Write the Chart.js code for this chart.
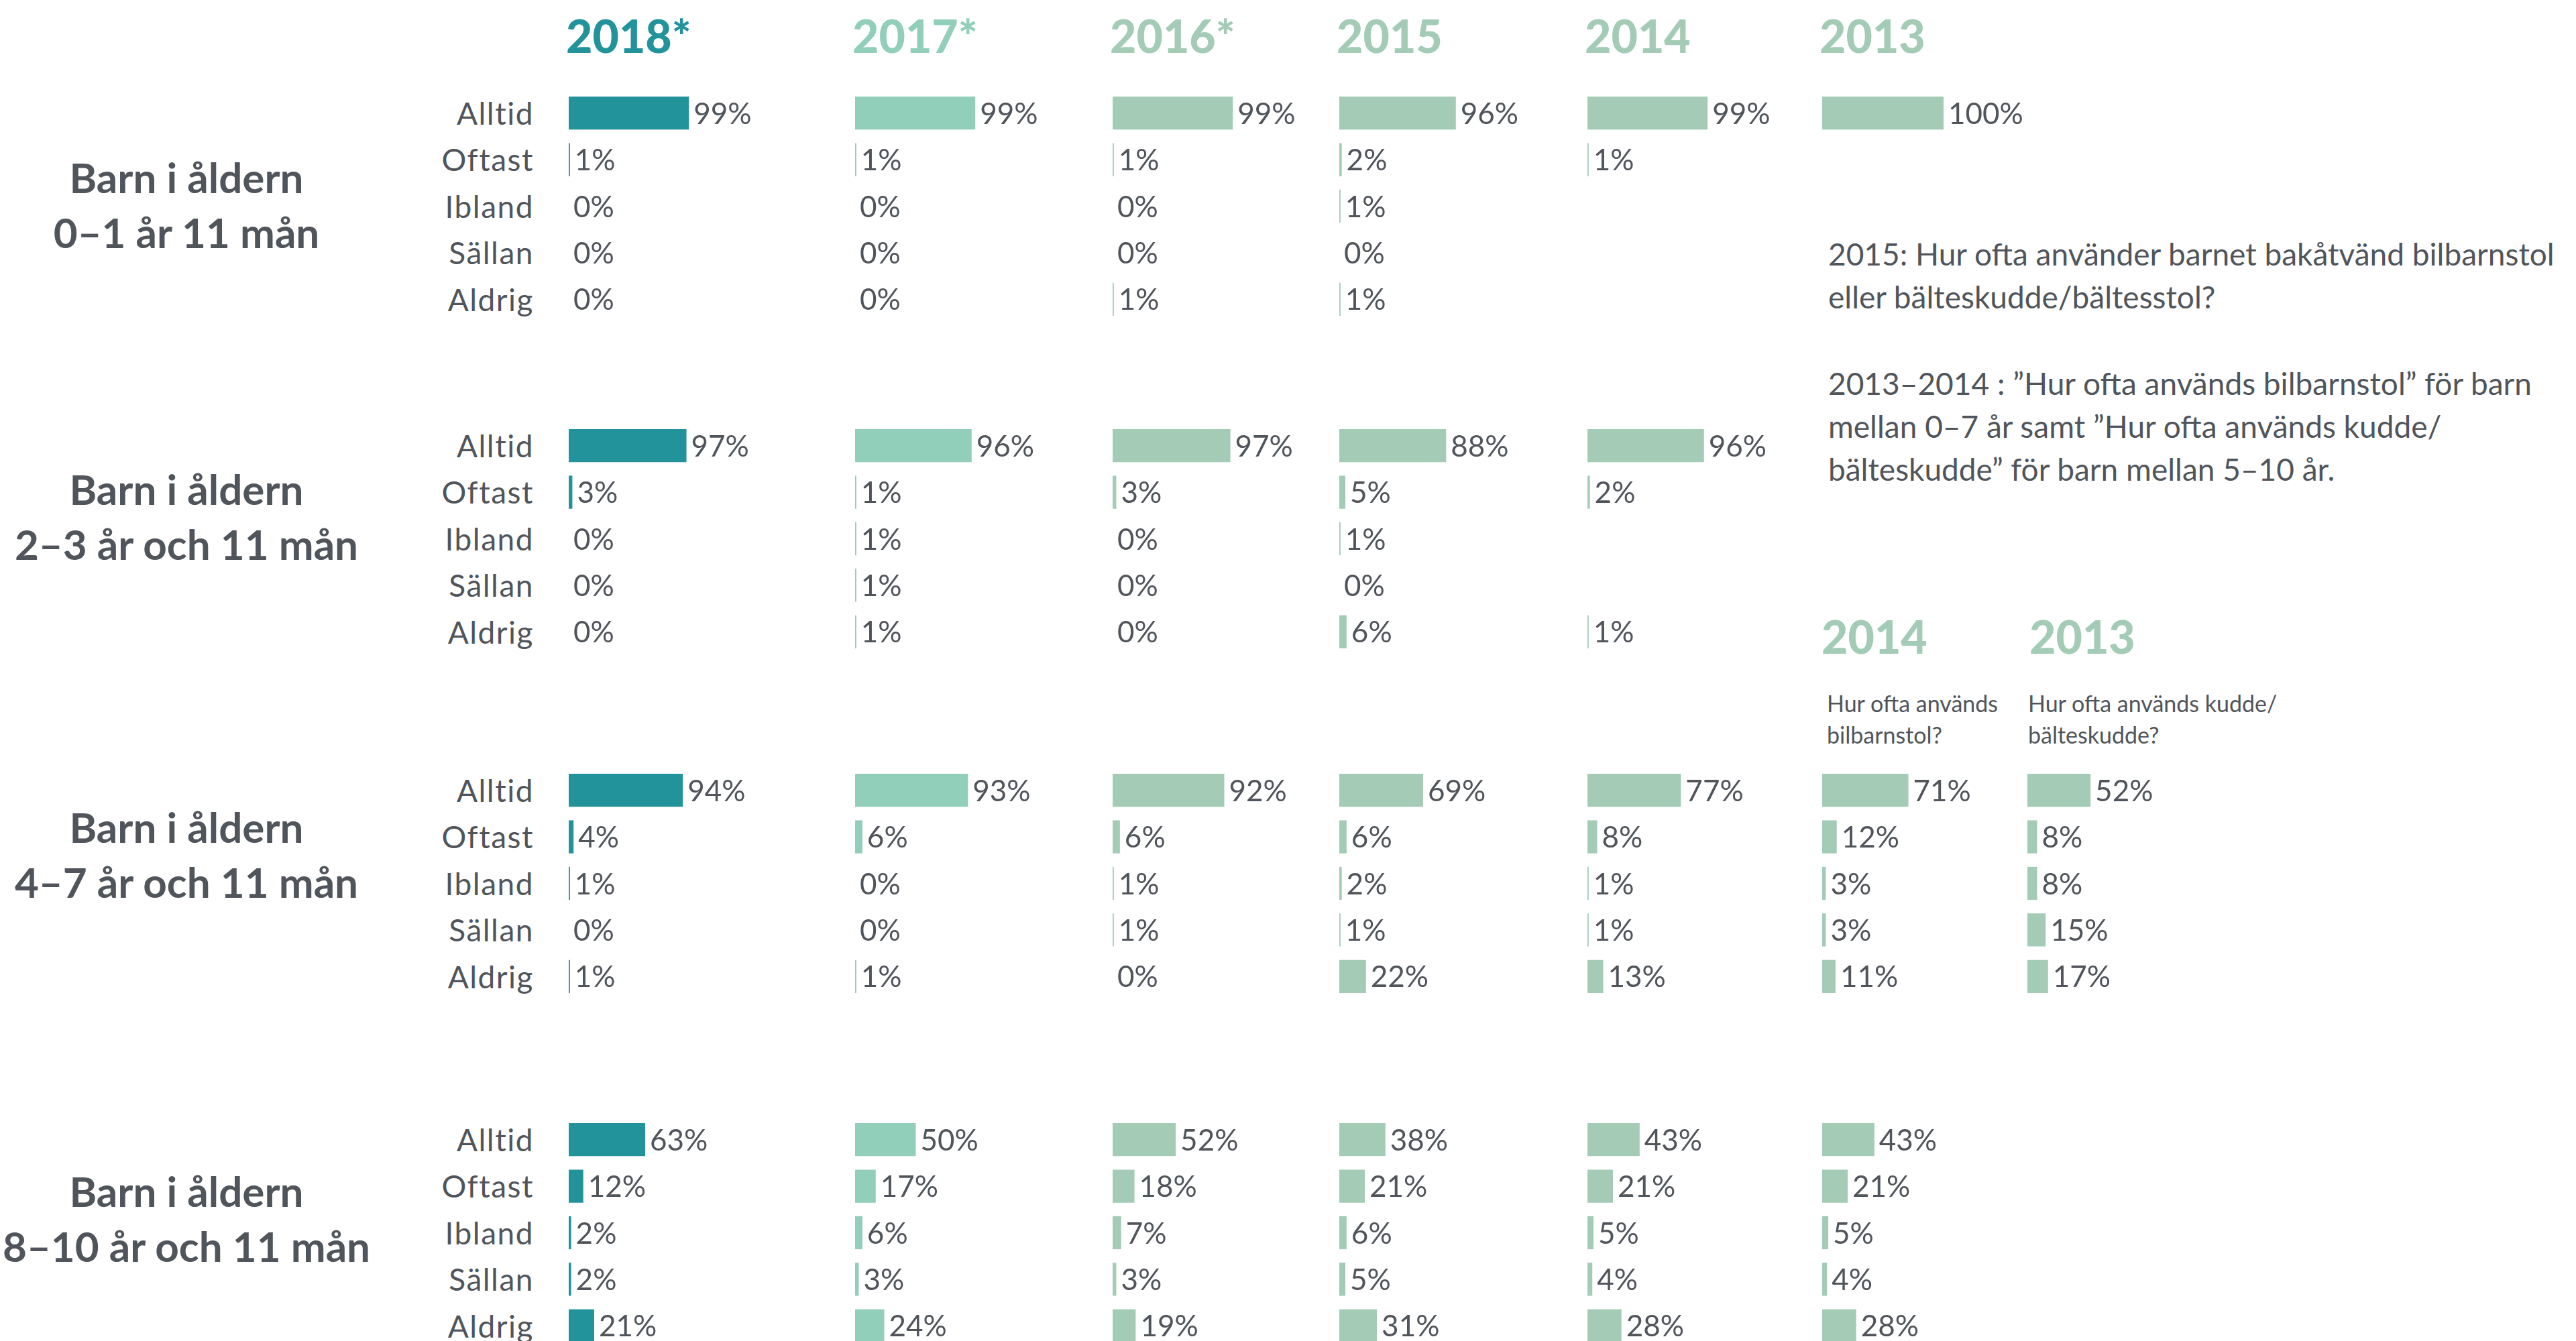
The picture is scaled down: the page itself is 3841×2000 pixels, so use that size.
<!DOCTYPE html>
<html lang="sv">
<head>
<meta charset="utf-8">
<script src="https://cdn.jsdelivr.net/npm/chart.js@4.4.1/dist/chart.umd.min.js"></script>
<style>
  html, body { margin: 0; padding: 0; background: #fff; }
  #page { position: relative; width: 3841px; height: 2000px; overflow: hidden;
          font-family: Lato, "Noto Sans", sans-serif; color: #50555b; }
  .abs { position: absolute; white-space: nowrap; }
  .year { font-weight: 900; font-size: 68px; line-height: 68px; }
  .group { font-weight: 700; font-size: 62px; line-height: 82px; text-align: center; width: 600px; }
  .rowlabs { position: absolute; width: 300px; text-align: right; font-size: 46px; letter-spacing: 1.5px; }
  .rowlabs div { height: 69.4px; line-height: 69.4px; }
  .note { font-size: 46px; line-height: 64px; }
  .q { font-size: 34px; line-height: 47px; }
  canvas { position: absolute; }
</style>
</head>
<body>
<div id="page"></div>
<script>
// ---- data ----
const rows = ['Alltid', 'Oftast', 'Ibland', 'Sällan', 'Aldrig'];
const years = ['2018*', '2017*', '2016*', '2015', '2014', '2013'];
const groupTitle = 'Barn i åldern';
const groupAges = ['0–1 år 11 mån', '2–3 år och 11 mån', '4–7 år och 11 mån', '8–10 år och 11 mån'];

// one list per year column: 2018, 2017, 2016, 2015, 2014, 2013
const age0 = [[99, 1, 0, 0, 0], [99, 1, 0, 0, 0], [99, 1, 0, 0, 1], [96, 2, 1, 0, 1],
              [99, 1, null, null, null], [100, null, null, null, null]];
const age2 = [[97, 3, 0, 0, 0], [96, 1, 1, 1, 1], [97, 3, 0, 0, 0], [88, 5, 1, 0, 6],
              [96, 2, null, null, 1]];
const age4 = [[94, 4, 1, 0, 1], [93, 6, 0, 0, 1], [92, 6, 1, 1, 0], [69, 6, 2, 1, 22],
              [77, 8, 1, 1, 13]];
const age4_2014stol = [71, 12, 3, 3, 11];
const age4_2013kudde = [52, 8, 8, 15, 17];
const age8 = [[63, 12, 2, 2, 21], [50, 17, 6, 3, 24], [52, 18, 7, 3, 19], [38, 21, 6, 5, 31],
              [43, 21, 5, 4, 28], [43, 21, 5, 4, 28]];

// ---- layout / styles ----
const TEAL = '#23939b', MINT = '#91cfba', SAGE = '#a3cbb6';
const colColors = [TEAL, MINT, SAGE, SAGE, SAGE, SAGE, SAGE];
const colX = [848, 1275, 1659, 1997, 2367, 2717, 3023];
const panelTop = [134, 630, 1144, 1665];
const groupTop = [223, 688, 1192, 1735];
const PITCH = 69.4;

const page = document.getElementById('page');

function addText(cls, left, top, html, color) {
    const d = document.createElement('div');
    d.className = 'abs ' + cls;
    d.style.left = left + 'px';
    d.style.top = top + 'px';
    if (color) d.style.color = color;
    d.innerHTML = html;
    page.appendChild(d);
    return d;
}

// year headers
years.forEach((y, i) => {
    addText('year', colX[i] - 4, 19, y, colColors[i]);
});

// group titles + row labels
groupAges.forEach((age, p) => {
    addText('group', 278 - 300, groupTop[p], groupTitle + '<br>' + age);
    const box = document.createElement('div');
    box.className = 'rowlabs';
    box.style.left = '496px';
    box.style.top = panelTop[p] + 'px';
    box.innerHTML = rows.map(r => '<div>' + r + '</div>').join('');
    page.appendChild(box);
});

// notes on the right
addText('note', 2726, 347, '2015: Hur ofta använder barnet bakåtvänd bilbarnstol<br>eller bälteskudde/bältesstol?');
addText('note', 2726, 540, '2013–2014 : ”Hur ofta används bilbarnstol” för barn<br>mellan 0–7 år samt ”Hur ofta används kudde/<br>bälteskudde” för barn mellan 5–10 år.');

// sub headers in the 4-7 panel
addText('year', 2716, 915, '2014', SAGE);
addText('year', 3026, 915, '2013', SAGE);
addText('q', 2724, 1025, 'Hur ofta används<br>bilbarnstol?');
addText('q', 3024, 1025, 'Hur ofta används kudde/<br>bälteskudde?');

// value labels next to each bar
const valueLabels = {
    id: 'valueLabels',
    afterDatasetsDraw(chart) {
        const ctx = chart.ctx;
        const data = chart.data.datasets[0].data;
        const meta = chart.getDatasetMeta(0);
        ctx.save();
        ctx.font = '400 44px Lato, "Noto Sans", sans-serif';
        ctx.fillStyle = '#50555b';
        ctx.textBaseline = 'middle';
        meta.data.forEach((bar, i) => {
            if (data[i] === null || data[i] === undefined) return;
            ctx.fillText(data[i] + '%', bar.x + 7, bar.y + 2);
        });
        ctx.restore();
    }
};

function makeChart(left, top, values, color) {
    const cv = document.createElement('canvas');
    cv.width = 331;
    cv.height = Math.round(PITCH * rows.length);
    cv.style.left = left + 'px';
    cv.style.top = top + 'px';
    page.appendChild(cv);
    return new Chart(cv, {
        type: 'bar',
        data: {
            labels: rows,
            datasets: [{
                data: values,
                backgroundColor: color,
                barPercentage: 0.71,
                categoryPercentage: 1
            }]
        },
        options: {
            indexAxis: 'y',
            responsive: false,
            animation: false,
            layout: { padding: { left: 0, right: 150, top: 0, bottom: 0 } },
            scales: {
                x: { min: 0, max: 100, display: false },
                y: { display: false }
            },
            plugins: { legend: { display: false }, tooltip: { enabled: false } }
        },
        plugins: [valueLabels]
    });
}

[age0, age2, age4, age8].forEach((panel, p) => {
    panel.forEach((vals, c) => makeChart(colX[c], panelTop[p], vals, colColors[c]));
});
makeChart(colX[5], panelTop[2], age4_2014stol, SAGE);
makeChart(colX[6], panelTop[2], age4_2013kudde, SAGE);
</script>
</body>
</html>
